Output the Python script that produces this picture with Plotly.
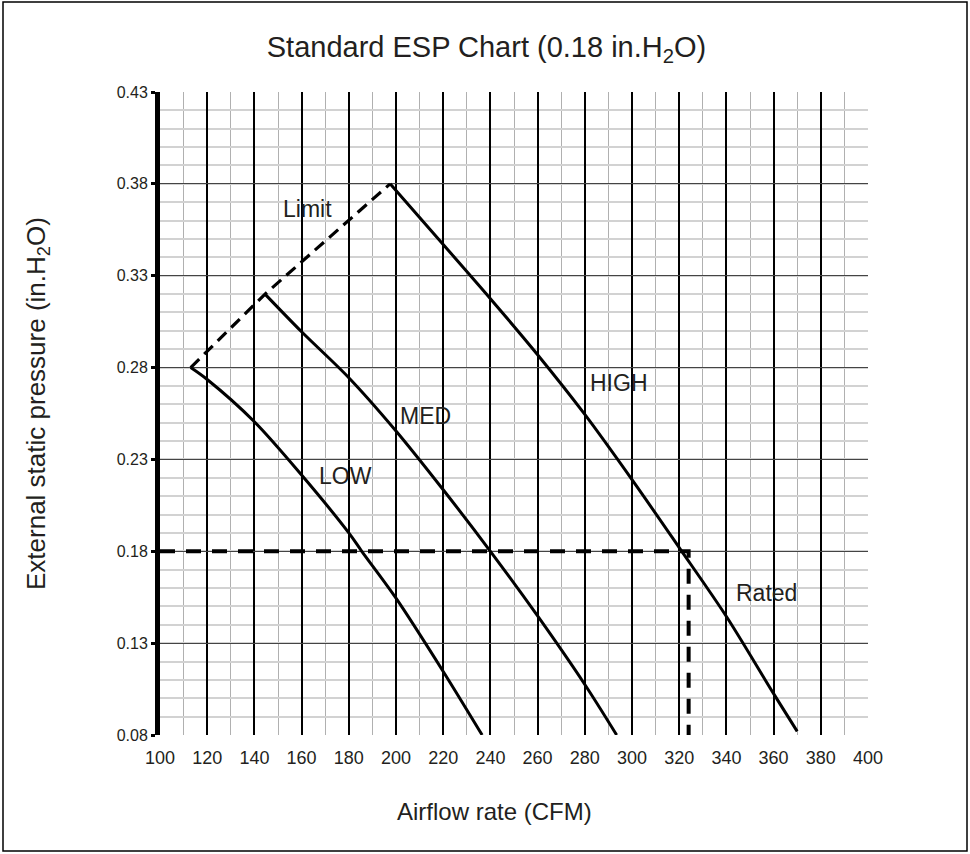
import plotly.graph_objects as go

# ---- data ----
low_cfm = [113, 120, 140, 160, 180, 185.5, 200, 220, 236.5]
low_esp = [0.28, 0.2735, 0.2505, 0.2215, 0.19, 0.18, 0.1545, 0.1146, 0.08]

med_cfm = [144.5, 160, 180, 200, 220, 240, 260, 280, 293.5]
med_esp = [0.32, 0.2995, 0.2745, 0.2455, 0.2135, 0.18, 0.1448, 0.1075, 0.08]

high_cfm = [197.5, 220, 240, 260, 280, 300, 320, 340, 360, 370]
high_esp = [0.38, 0.347, 0.3175, 0.287, 0.2545, 0.219, 0.182, 0.1445, 0.1025, 0.082]

limit_cfm = [113, 144.5, 197.5]
limit_esp = [0.28, 0.32, 0.38]

rated_cfm = [100, 324, 324]
rated_esp = [0.18, 0.18, 0.08]

label_text = ["Limit", "HIGH", "MED", "LOW", "Rated"]
label_cfm = [162.7, 294.7, 212.7, 178.4, 357.1]
label_esp = [0.3665, 0.2714, 0.2538, 0.2211, 0.1571]

x_ticks = list(range(100, 401, 20))
y_ticks = [0.08, 0.13, 0.18, 0.23, 0.28, 0.33, 0.38, 0.43]

# ---- layout geometry (pixels) ----
W, H = 970, 854
L, R, T, B = 160, 868, 92, 735


def px(x):
    return (x - L) / (R - L)


def py(y):
    return (B - y) / (B - T)


FONT = "Liberation Sans, Arial, sans-serif"
TXT = "#231f20"

fig = go.Figure()

fig.add_trace(go.Scatter(x=rated_cfm, y=rated_esp, mode="lines",
                         line=dict(color="black", width=4, dash="15px,11px"),
                         hoverinfo="skip"))
fig.add_trace(go.Scatter(x=limit_cfm, y=limit_esp, mode="lines",
                         line=dict(color="black", width=3.2, dash="12px,7px"),
                         hoverinfo="skip"))
for xs, ys in [(low_cfm, low_esp), (med_cfm, med_esp), (high_cfm, high_esp)]:
    fig.add_trace(go.Scatter(x=xs, y=ys, mode="lines",
                             line=dict(color="black", width=3, shape="spline", smoothing=0.9),
                             hoverinfo="skip"))

for t, x, y in zip(label_text, label_cfm, label_esp):
    fig.add_annotation(x=x, y=y, text=t, showarrow=False,
                       font=dict(family=FONT, size=23, color=TXT),
                       xanchor="center", yanchor="middle")

# axis titles
fig.add_annotation(xref="paper", yref="paper", x=px(494.5), y=py(811),
                   text="Airflow rate (CFM)", showarrow=False,
                   font=dict(family=FONT, size=24, color=TXT),
                   xanchor="center", yanchor="middle")
fig.add_annotation(xref="paper", yref="paper", x=px(37), y=py(404),
                   text="External static pressure (in.H<sub>2</sub>O)", showarrow=False,
                   textangle=-90,
                   font=dict(family=FONT, size=26, color=TXT),
                   xanchor="center", yanchor="middle")

# outer frame
fig.add_shape(type="rect", xref="paper", yref="paper",
              x0=px(3), x1=px(967), y0=py(851), y1=py(2),
              line=dict(color="black", width=1.5), layer="below")

fig.update_layout(
    width=W, height=H,
    margin=dict(l=L, r=W - R, t=T, b=H - B),
    paper_bgcolor="white", plot_bgcolor="white",
    showlegend=False,
    font=dict(family=FONT, color=TXT),
    title=dict(text="Standard ESP Chart (0.18 in.H<sub>2</sub>O)",
               x=486.5 / W, y=1 - 47 / H, xref="container", yref="container",
               xanchor="center", yanchor="middle",
               font=dict(family=FONT, size=29, color=TXT)),
)

fig.update_xaxes(
    range=[100, 400], tickvals=x_ticks, ticktext=[str(v) for v in x_ticks],
    showgrid=True, gridcolor="black", gridwidth=2,
    minor=dict(dtick=10, tick0=100, showgrid=True, gridcolor="#b0b0b0", gridwidth=1),
    ticks="outside", ticklen=6, tickcolor="rgba(0,0,0,0)",
    tickfont=dict(family=FONT, size=18, color=TXT),
    zeroline=False, showline=True, linecolor="white", linewidth=1.5,
)
fig.update_yaxes(
    range=[0.08, 0.43], tickvals=y_ticks, ticktext=[f"{v:.2f}" for v in y_ticks],
    showgrid=True, gridcolor="#444444", gridwidth=1,
    minor=dict(dtick=0.01, tick0=0.08, showgrid=True, gridcolor="#d2d2d2", gridwidth=1.5),
    ticks="outside", ticklen=4, tickwidth=3, tickcolor="black",
    tickfont=dict(family=FONT, size=16, color=TXT),
    showline=True, linecolor="black", linewidth=5,
    zeroline=False,
)

fig.write_html("out.html", config={"displayModeBar": False},
               post_script="document.body.style.margin='0';document.body.style.overflow='hidden';")
